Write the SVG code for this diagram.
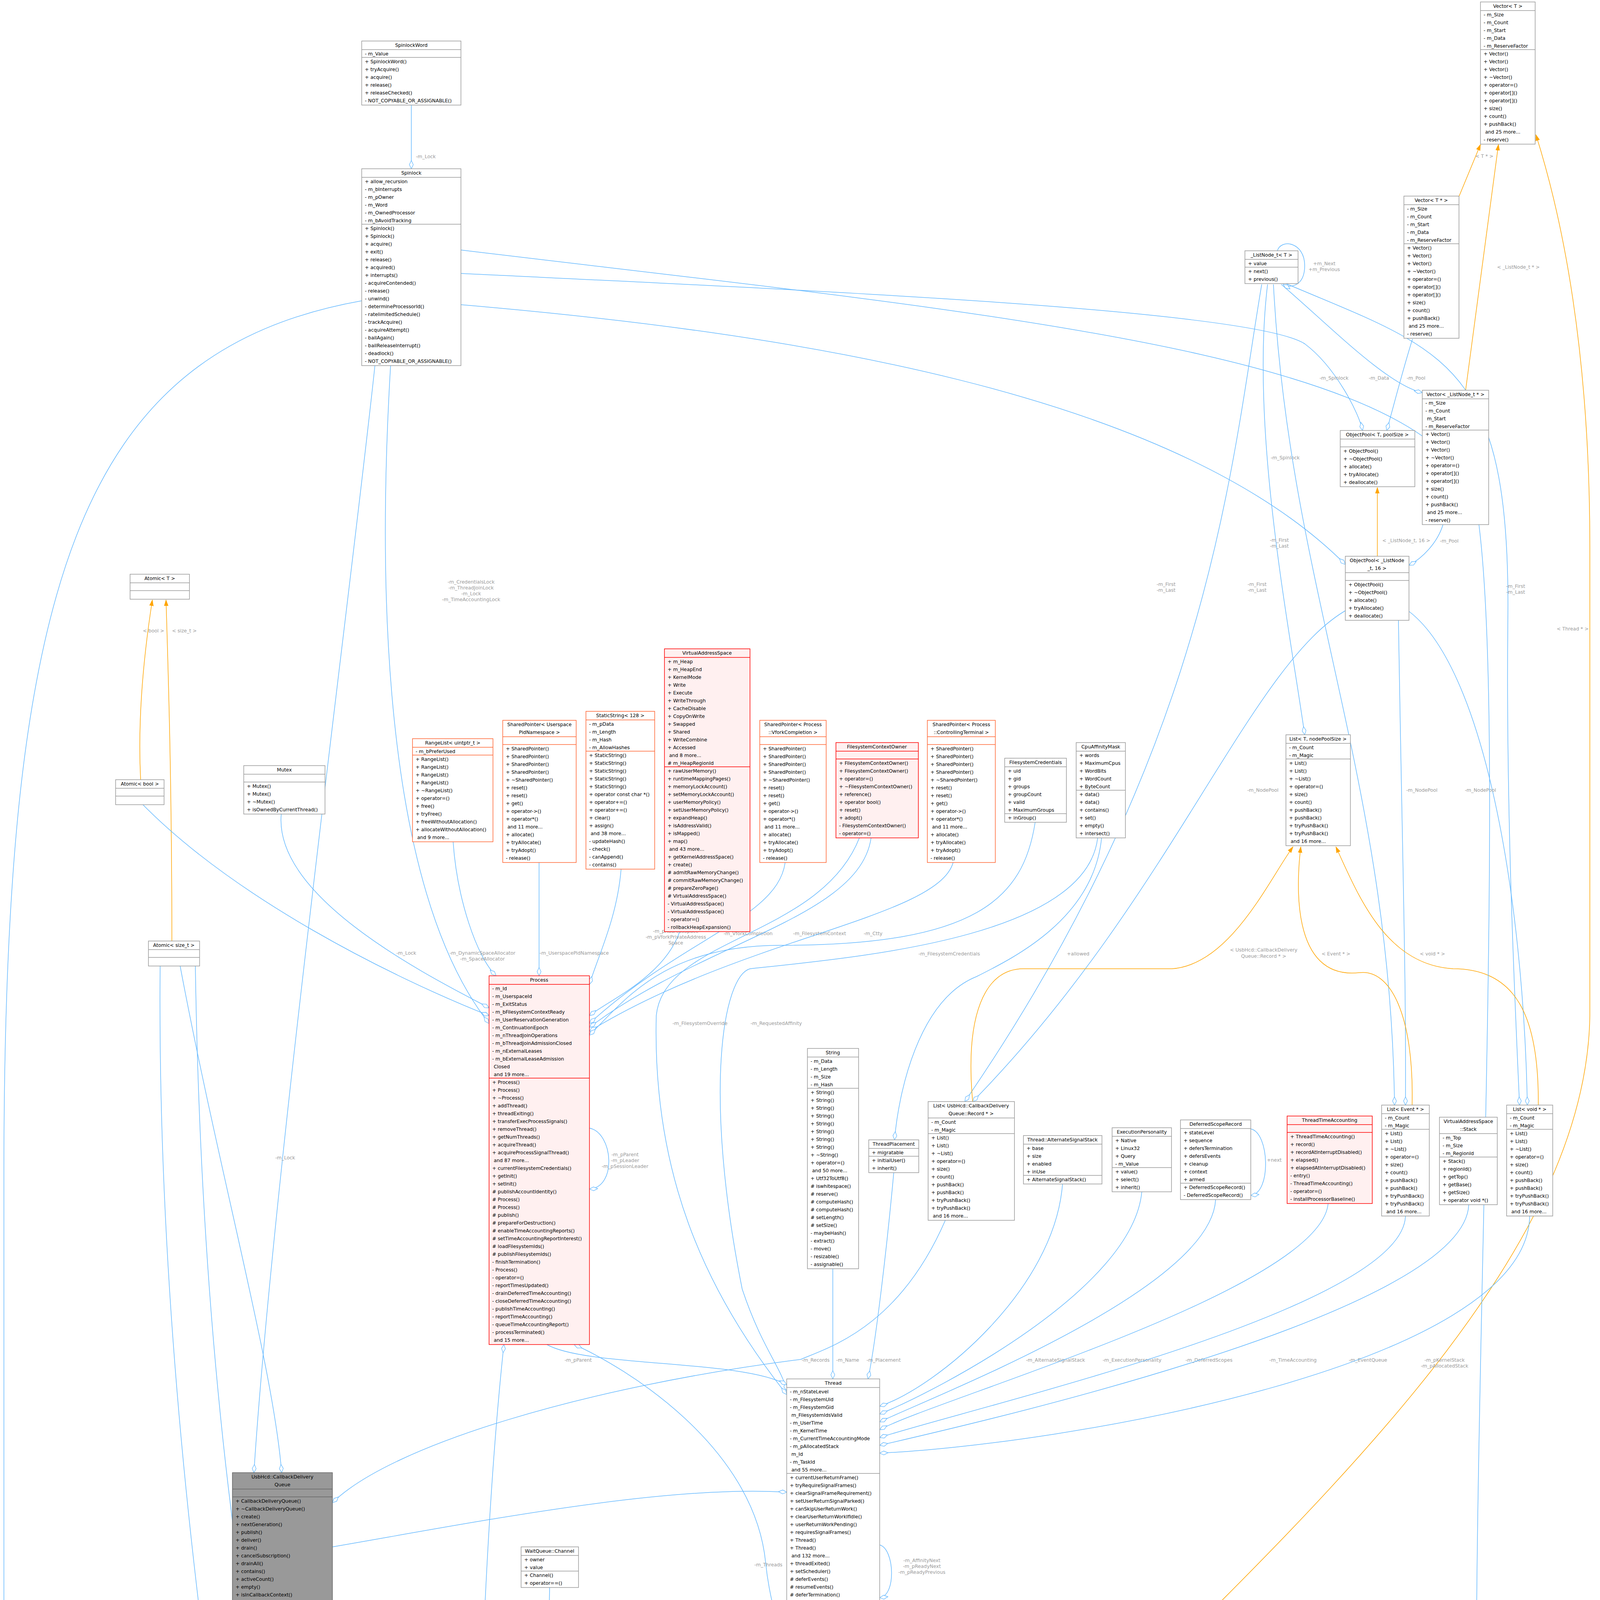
<svg xmlns="http://www.w3.org/2000/svg" width="4113" height="7321" viewBox="0 0 4113 7321">
<style>
.t{font-family:"DejaVu Sans","Liberation Sans",sans-serif;font-size:12.3px;fill:#000}
.c{text-anchor:middle}
.l{font-family:"DejaVu Sans","Liberation Sans",sans-serif;font-size:12.3px;fill:#9A9A9A;text-anchor:middle}
.bx rect{fill:#fff;stroke:#999;stroke-width:1.5}
.bx line{stroke:#999;stroke-width:1.5}
.rd rect{fill:#FFF0F0;stroke:#FF0000;stroke-width:1.5}
.rd line{stroke:#FF0000;stroke-width:1.5}
.or rect{fill:#fff;stroke:#FF6633;stroke-width:1.5}
.or line{stroke:#FF6633;stroke-width:1.5}
.gy rect{fill:#999;stroke:#666;stroke-width:1.5}
.gy line{stroke:#666;stroke-width:1.5}
.e{fill:none;stroke:#63B8FF;stroke-width:1.5}
.o{fill:none;stroke:orange;stroke-width:1.5}
</style>
<defs>
<marker id="dm" markerWidth="24" markerHeight="12" refX="22" refY="6" orient="auto" markerUnits="userSpaceOnUse"><path d="M1,6 L11.5,1 L22,6 L11.5,11 Z" fill="#fff" stroke="#63B8FF" stroke-width="1.3"/></marker>
<marker id="oa" markerWidth="16" markerHeight="12" refX="15" refY="6" orient="auto" markerUnits="userSpaceOnUse"><path d="M0,1 L15,6 L0,11 Z" fill="orange" stroke="orange"/></marker>
<marker id="ta" markerWidth="16" markerHeight="12" refX="15" refY="6" orient="auto" markerUnits="userSpaceOnUse"><path d="M0,1 L15,6 L0,11 Z" fill="#fff" stroke="#63B8FF"/></marker>
</defs>

<g id="connectors">
<path class="e" marker-end="url(#dm)" d="M1053,268 L1053,432"/>
<text class="l" x="1090" y="405">-m_Lock</text>
<path class="o" marker-end="url(#oa)" d="M3735,503 L3790,370"/>
<text class="l" x="3800" y="404">&lt; T * &gt;</text>
<path class="o" marker-end="url(#oa)" d="M3752,999 L3836,370"/>
<text class="l" x="3887" y="688">&lt; _ListNode_t * &gt;</text>
<path class="o" marker-end="url(#oa)" d="M2576,4650 C3200,4000 4060,3300 4070,2600 L4070,1400 C4070,900 4000,560 3932,345"/>
<text class="l" x="4026" y="1614">&lt; Thread * &gt;</text>
<path class="o" marker-end="url(#oa)" d="M3526,1424 L3526,1248"/>
<text class="l" x="3600" y="1388">&lt; _ListNode_t, 16 &gt;</text>
<path class="e" marker-end="url(#dm)" d="M3270,642 C3280,610 3340,620 3340,680 C3340,735 3300,738 3285,728"/>
<text class="l" x="3390" y="679">+m_Next</text>
<text class="l" x="3390" y="694">+m_Previous</text>
<path class="e" marker-end="url(#dm)" d="M1180,700 C2000,740 3200,790 3340,880 C3420,940 3480,1060 3488,1102"/>
<text class="l" x="3415" y="972">-m_Spinlock</text>
<path class="e" marker-end="url(#dm)" d="M3616,868 C3590,950 3565,1050 3550,1102"/>
<text class="l" x="3625" y="972">-m_Pool</text>
<path class="e" marker-end="url(#dm)" d="M3280,728 C3400,830 3550,985 3641,1005"/>
<text class="l" x="3530" y="972">-m_Data</text>
<path class="e" marker-end="url(#dm)" d="M1180,780 C2000,850 3000,1000 3444,1445"/>
<text class="l" x="3290" y="1176">-m_Spinlock</text>
<path class="e" marker-end="url(#dm)" d="M3694,1343 C3680,1390 3640,1430 3607,1447"/>
<text class="l" x="3710" y="1389">-m_Pool</text>
<path class="e" marker-end="url(#dm)" d="M3450,1560 C3200,1700 3000,2300 2490,2820"/>
<text class="l" x="3233" y="2027">-m_NodePool</text>
<path class="e" marker-end="url(#dm)" d="M3580,1588 C3590,2200 3600,2500 3598,2829"/>
<text class="l" x="3640" y="2027">-m_NodePool</text>
<path class="e" marker-end="url(#dm)" d="M3600,1560 C3800,1700 3900,2300 3910,2829"/>
<text class="l" x="3790" y="2027">-m_NodePool</text>
<path class="e" marker-end="url(#dm)" d="M3245,728 C3200,1100 3300,1600 3340,1881"/>
<text class="l" x="3275" y="1387">-m_First</text>
<text class="l" x="3275" y="1402">-m_Last</text>
<path class="e" marker-end="url(#dm)" d="M3230,728 C3150,1200 3100,1900 2470,2820"/>
<text class="l" x="3218" y="1500">-m_First</text>
<text class="l" x="3218" y="1515">-m_Last</text>
<path class="e" marker-end="url(#dm)" d="M3290,725 C3700,900 3870,920 3860,1600 C3855,2100 3880,2600 3890,2829"/>
<text class="l" x="3880" y="1505">-m_First</text>
<text class="l" x="3880" y="1520">-m_Last</text>
<path class="e" marker-end="url(#dm)" d="M3260,728 C3300,1500 3560,2000 3570,2829"/>
<text class="l" x="2985" y="1500">-m_First</text>
<text class="l" x="2985" y="1515">-m_Last</text>
<path class="o" marker-end="url(#oa)" d="M2490,2820 C2470,2600 2520,2480 2620,2480 L3000,2480 C3150,2470 3250,2250 3310,2168"/>
<text class="l" x="3235" y="2436">&lt; UsbHcd::CallbackDelivery</text>
<text class="l" x="3235" y="2452">Queue::Record * &gt;</text>
<path class="o" marker-end="url(#oa)" d="M3615,2829 C3620,2600 3560,2480 3480,2490 C3300,2510 3320,2250 3330,2168"/>
<text class="l" x="3420" y="2446">&lt; Event * &gt;</text>
<path class="o" marker-end="url(#oa)" d="M3938,2829 C3940,2600 3880,2480 3720,2480 C3550,2470 3480,2300 3420,2168"/>
<text class="l" x="3667" y="2446">&lt; void * &gt;</text>
<path class="o" marker-end="url(#oa)" d="M360,1996 C350,1800 380,1600 390,1536"/>
<text class="l" x="393" y="1619">&lt; bool &gt;</text>
<path class="o" marker-end="url(#oa)" d="M440,2409 C440,2000 430,1700 425,1536"/>
<text class="l" x="472" y="1619">&lt; size_t &gt;</text>

<path class="e" marker-end="url(#dm)" d="M1000,934 C960,1600 1000,2300 1252,2620"/>
<text class="l" x="1206" y="1494">-m_CredentialsLock</text>
<text class="l" x="1206" y="1509">-m_ThreadJoinLock</text>
<text class="l" x="1206" y="1524">-m_Lock</text>
<text class="l" x="1206" y="1539">-m_TimeAccountingLock</text>
<path class="e" marker-end="url(#dm)" d="M720,2084 C700,2300 1100,2500 1252,2580"/>
<text class="l" x="1040" y="2444">-m_Lock</text>
<path class="e" marker-end="url(#dm)" d="M360,2054 C600,2300 1000,2500 1252,2600"/>
<path class="e" marker-end="url(#dm)" d="M1160,2155 C1170,2300 1220,2450 1270,2498"/>
<text class="l" x="1235" y="2444">-m_DynamicSpaceAllocator</text>
<text class="l" x="1235" y="2459">-m_SpaceAllocator</text>
<path class="e" marker-end="url(#dm)" d="M1380,2208 L1380,2498"/>
<text class="l" x="1470" y="2444">-m_UserspacePidNamespace</text>
<path class="e" marker-end="url(#dm)" d="M1590,2225 C1580,2350 1530,2450 1509,2520"/>
<path class="e" marker-end="url(#dm)" d="M1740,2385 C1700,2500 1560,2560 1509,2600"/>
<text class="l" x="1730" y="2388">-m_pAddressSpace</text>
<text class="l" x="1730" y="2403">-m_pVforkPrivateAddress</text>
<text class="l" x="1730" y="2418">Space</text>
<path class="e" marker-end="url(#dm)" d="M2010,2208 C1990,2350 1750,2400 1509,2620"/>
<text class="l" x="1915" y="2394">-m_VforkCompletion</text>
<path class="e" marker-end="url(#dm)" d="M2230,2145 C2200,2350 1800,2410 1509,2630"/>
<text class="l" x="2098" y="2394">-m_FilesystemContext</text>
<path class="e" marker-end="url(#dm)" d="M2440,2208 C2400,2350 1900,2400 1509,2640"/>
<text class="l" x="2235" y="2394">-m_Ctty</text>
<path class="e" marker-end="url(#dm)" d="M2650,2105 C2620,2300 2500,2420 2000,2420 C1700,2420 1600,2560 1509,2650"/>
<text class="l" x="2430" y="2446">-m_FilesystemCredentials</text>
<path class="e" marker-end="url(#dm)" d="M2820,2145 C2800,2350 2600,2450 2500,2500 C2350,2560 2300,2800 2290,2918"/>
<text class="l" x="2760" y="2446">+allowed</text>
<path class="e" marker-end="url(#dm)" d="M2810,2145 C2780,2400 2200,2450 1920,2480 C1850,2500 1800,2800 1900,3300 C1950,3450 2000,3500 2014,3560"/>
<text class="l" x="1987" y="2624">-m_RequestedAffinity</text>
<path class="e" marker-end="url(#dm)" d="M2200,2145 C2100,2400 1700,2400 1680,2600 C1670,3000 1800,3300 2014,3570"/>
<text class="l" x="1792" y="2624">-m_FilesystemOverride</text>
<path class="e" marker-end="url(#dm)" d="M1400,3442 C1500,3500 1900,3480 2014,3545"/>
<text class="l" x="1480" y="3486">-m_pParent</text>
<path class="e" marker-end="url(#dm)" d="M1509,2888 C1570,2900 1580,3040 1509,3044"/>
<text class="l" x="1600" y="2960">-m_pParent</text>
<text class="l" x="1600" y="2975">-m_pLeader</text>
<text class="l" x="1600" y="2990">-m_pSessionLeader</text>
<path class="e" marker-end="url(#dm)" d="M2132,3248 L2132,3530"/>
<text class="l" x="2170" y="3486">-m_Name</text>
<path class="e" marker-end="url(#dm)" d="M2420,3124 C2300,3400 2120,3450 2050,3480 C1500,3550 1000,3700 851,3847"/>
<text class="l" x="2088" y="3486">-m_Records</text>
<path class="e" marker-end="url(#dm)" d="M2288,3002 C2270,3200 2240,3450 2222,3530"/>
<text class="l" x="2262" y="3486">-m_Placement</text>
<path class="e" marker-end="url(#dm)" d="M2720,3031 C2700,3300 2400,3550 2252,3600"/>
<text class="l" x="2702" y="3486">-m_AlternateSignalStack</text>
<path class="e" marker-end="url(#dm)" d="M2923,3051 C2900,3300 2400,3560 2252,3620"/>
<text class="l" x="2898" y="3486">-m_ExecutionPersonality</text>
<path class="e" marker-end="url(#dm)" d="M3112,3071 C3100,3300 2400,3570 2252,3640"/>
<text class="l" x="3095" y="3486">-m_DeferredScopes</text>
<path class="e" marker-end="url(#dm)" d="M3202,2890 C3250,2900 3255,3055 3202,3060"/>
<text class="l" x="3262" y="2974">+next</text>
<path class="e" marker-end="url(#dm)" d="M3400,3081 C3380,3300 2400,3580 2252,3660"/>
<text class="l" x="3310" y="3486">-m_TimeAccounting</text>
<path class="e" marker-end="url(#dm)" d="M3598,3113 C3590,3350 2500,3600 2252,3680"/>
<text class="l" x="3502" y="3486">-m_EventQueue</text>
<path class="e" marker-end="url(#dm)" d="M3760,3084 C3750,3350 2600,3620 2252,3700"/>
<text class="l" x="3698" y="3486">-m_pKernelStack</text>
<text class="l" x="3698" y="3501">-m_pAllocatedStack</text>
<path class="e" marker-end="url(#dm)" d="M3916,3113 C3910,3500 2700,3700 2252,3720"/>
<path class="e" marker-end="url(#dm)" d="M2252,3955 C2290,3965 2295,4085 2252,4090"/>
<text class="l" x="2360" y="3999">-m_AffinityNext</text>
<text class="l" x="2360" y="4014">-m_pReadyNext</text>
<text class="l" x="2360" y="4029">-m_pReadyPrevious</text>
<path class="e" marker-end="url(#dm)" d="M2115,4494 C2130,4600 2200,4740 2210,4771"/>
<text class="l" x="2167" y="4562">+thread</text>
<path class="e" marker-end="url(#dm)" d="M2232,4771 L2198,4494"/>
<text class="l" x="2287" y="4562">-m_DeferredReapNode</text>
<path class="e" marker-end="url(#dm)" d="M2334,4785 C2385,4775 2385,4845 2270,4836"/>
<text class="l" x="2395" y="4804">+next</text>
<path class="e" marker-end="url(#dm)" d="M2252,4268 C2300,4400 2400,4620 2434,4640"/>
<text class="l" x="2435" y="4562">-m_Data</text>
<path class="e" marker-end="url(#dm)" d="M2245,4835 C2300,5200 2450,5500 2500,5705"/>
<text class="l" x="2392" y="5117">-m_Head</text>
<text class="l" x="2392" y="5132">-m_Stub</text>
<text class="l" x="2392" y="5147">-m_Tail</text>
<path class="e" marker-end="url(#dm)" d="M2470,5989 C2400,6300 2000,6700 1934,6800"/>
<text class="l" x="2465" y="6209">-m_DeferredThreadReaps</text>
<path class="e" marker-end="url(#dm)" d="M2080,4494 C2000,4700 1900,4900 1880,4996"/>
<text class="l" x="1940" y="4559">-m_pThread</text>
<path class="e" marker-end="url(#dm)" d="M2020,5285 C2030,5000 2050,4700 2060,4494"/>
<text class="l" x="2072" y="4804">-m_StateLevels</text>
<path class="e" marker-end="url(#dm)" d="M2030,4494 C1900,5000 1800,5600 1800,6480"/>
<text class="l" x="1880" y="5847">-m_NewThreadWaiter</text>
<text class="l" x="1880" y="5862">-m_TimeAccountingWorker</text>
<path class="e" marker-end="url(#dm)" d="M2014,4100 C1700,4300 1500,4550 1480,4648"/>
<text class="l" x="1626" y="4559">+thread</text>
<path class="e" marker-end="url(#dm)" d="M2434,4720 C2200,4600 1990,4300 1960,4000 C1930,3700 1600,3500 1470,3442"/>
<text class="l" x="1967" y="4010">-m_Threads</text>
<path class="e" marker-end="url(#dm)" d="M1407,4064 L1396,4648"/>
<text class="l" x="1430" y="4563">+channel</text>
<path class="e" marker-end="url(#dm)" d="M1220,5290 C1210,4900 1230,4000 1290,3442"/>
<text class="l" x="1305" y="4526">-m_ChildStateWaiters</text>
<text class="l" x="1305" y="4541">-m_ExecWaiters</text>
<text class="l" x="1305" y="4556">-m_ExternalLeaseWaiters</text>
<text class="l" x="1305" y="4571">-m_SuspensionWaiters</text>
<text class="l" x="1305" y="4586">-m_TerminationWaiters</text>
<text class="l" x="1305" y="4601">-m_ThreadJoinWaiters</text>
<path class="e" marker-end="url(#dm)" d="M1483,4760 C1515,4770 1515,4850 1483,4845"/>
<text class="l" x="1540" y="4808">+next</text>
<path class="e" marker-end="url(#dm)" d="M1456,4952 C1420,5050 1330,5100 1290,5290"/>
<text class="l" x="1300" y="5129">-m_pFirst</text>
<text class="l" x="1300" y="5144">-m_pLast</text>
<path class="e" marker-end="url(#dm)" d="M1250,5290 C1280,5100 1370,5000 1390,4952"/>
<text class="l" x="1430" y="5130">+queue</text>
<path class="e" marker-end="url(#dm)" d="M1483,4870 C1700,5000 1780,5150 1830,4800 C1880,4500 1980,4400 2014,4380"/>
<text class="l" x="1763" y="5130">-m_Waiter</text>
<path class="e" marker-end="url(#dm)" d="M960,934 C900,1500 700,3000 650,3770"/>
<path class="e" marker-end="url(#dm)" d="M460,2467 C560,3000 700,3500 721,3770"/>
<text class="l" x="730" y="2968">-m_Lock</text>
<path class="e" marker-end="url(#dm)" d="M410,2467 C400,3500 560,4500 590,4700 C620,4900 900,5500 900,6018"/>
<text class="l" x="590" y="4559">-m_Pending</text>
<path class="e" marker-end="url(#dm)" d="M500,2467 C520,3800 700,4500 703,4560 C720,4800 940,5500 950,6018"/>
<text class="l" x="703" y="4559">-m_Counter</text>
<path class="e" marker-end="url(#dm)" d="M1170,5673 C1150,5850 1050,5950 1040,6018"/>
<text class="l" x="1167" y="5852">-m_Waiters</text>
<path class="e" marker-end="url(#dm)" d="M1230,5673 C1240,5850 1210,6000 1210,6108"/>
<text class="l" x="1254" y="5852">-m_Waiters</text>
<path class="e" marker-end="url(#dm)" d="M1302,4870 C1000,5200 940,5700 940,6018"/>
<text class="l" x="997" y="5852">-m_pWaiter</text>
<path class="e" marker-end="url(#dm)" d="M750,6185 C795,6180 795,6250 740,6242"/>
<text class="l" x="818" y="6216">-m_pNext</text>
<path class="e" marker-end="url(#dm)" d="M1110,5552 C900,5700 700,6000 680,6178"/>
<path class="e" marker-end="url(#dm)" d="M600,6242 C700,6400 1200,6600 1668,6850"/>
<text class="l" x="1023" y="6442">-m_TimeAccountingWorkerWake</text>
<text class="l" x="1023" y="6457">-m_pWorkerWake</text>
<path class="e" marker-end="url(#dm)" d="M1200,6312 C1180,6500 1500,6700 1668,6800"/>
<text class="l" x="1246" y="6442">-m_NewThreadCondition</text>
<path class="e" marker-end="url(#dm)" d="M1290,5673 C1400,6000 1600,6300 1668,6600"/>
<text class="l" x="1489" y="6215">-m_TimeAccountingWorkerWaiters</text>
<path class="e" marker-end="url(#ta)" d="M1850,6480 L1868,6254"/>
<path class="e" marker-end="url(#dm)" d="M2050,6282 C2030,6400 1950,6500 1934,6560"/>
<text class="l" x="2085" y="6442">-m_pSchedulingAlgorithm</text>
<path class="e" marker-end="url(#dm)" d="M3150,6349 C3000,6500 2200,6700 1934,6830"/>
<text class="l" x="3187" y="6442">-m_TimeAccountingState</text>
<path class="e" marker-end="url(#dm)" d="M926,770 C200,900 10,1500 10,3000 L10,6600 C10,6900 1300,6850 1668,6870"/>
<path class="e" marker-end="url(#dm)" d="M1180,640 C2500,800 3700,900 3780,1300 C3860,1800 3770,3500 3780,4500 C3800,6000 3000,6700 1934,6870"/>
<path class="e" marker-end="url(#dm)" d="M851,3960 C1200,3900 1700,3800 2014,3820"/>
</g>

<g id="n_spinlockword" class="bx"><rect x="926" y="105" width="254" height="164"/><line x1="926" y1="127" x2="1180" y2="127"/><line x1="926" y1="147" x2="1180" y2="147"/>
<text class="t c" x="1053" y="120">SpinlockWord</text>
<text class="t"><tspan x="934" y="142">- m_Value</tspan><tspan x="934" y="162">+ SpinlockWord()</tspan><tspan x="934" dy="20">+ tryAcquire()</tspan><tspan x="934" dy="20">+ acquire()</tspan><tspan x="934" dy="20">+ release()</tspan><tspan x="934" dy="20">+ releaseChecked()</tspan><tspan x="934" dy="20">- NOT_COPYABLE_OR_ASSIGNABLE()</tspan></text></g>

<g id="n_spinlock" class="bx"><rect x="926" y="432" width="254" height="504"/><line x1="926" y1="454" x2="1180" y2="454"/><line x1="926" y1="574" x2="1180" y2="574"/>
<text class="t c" x="1053" y="447">Spinlock</text>
<text class="t"><tspan x="934" y="469">+ allow_recursion</tspan><tspan x="934" dy="20">- m_bInterrupts</tspan><tspan x="934" dy="20">- m_pOwner</tspan><tspan x="934" dy="20">- m_Word</tspan><tspan x="934" dy="20">- m_OwnedProcessor</tspan><tspan x="934" dy="20">- m_bAvoidTracking</tspan>
<tspan x="934" y="589">+ Spinlock()</tspan><tspan x="934" dy="20">+ Spinlock()</tspan><tspan x="934" dy="20">+ acquire()</tspan><tspan x="934" dy="20">+ exit()</tspan><tspan x="934" dy="20">+ release()</tspan><tspan x="934" dy="20">+ acquired()</tspan><tspan x="934" dy="20">+ interrupts()</tspan><tspan x="934" dy="20">- acquireContended()</tspan><tspan x="934" dy="20">- release()</tspan><tspan x="934" dy="20">- unwind()</tspan><tspan x="934" dy="20">- determineProcessorId()</tspan><tspan x="934" dy="20">- ratelimitedSchedule()</tspan><tspan x="934" dy="20">- trackAcquire()</tspan><tspan x="934" dy="20">- acquireAttempt()</tspan><tspan x="934" dy="20">- bailAgain()</tspan><tspan x="934" dy="20">- bailReleaseInterrupt()</tspan><tspan x="934" dy="20">- deadlock()</tspan><tspan x="934" dy="20">- NOT_COPYABLE_OR_ASSIGNABLE()</tspan></text></g>

<g id="n_vector_t" class="bx"><rect x="3790" y="5" width="140" height="364"/><line x1="3790" y1="27" x2="3930" y2="27"/><line x1="3790" y1="127" x2="3930" y2="127"/>
<text class="t c" x="3860" y="20">Vector&lt; T &gt;</text>
<text class="t"><tspan x="3798" y="42">- m_Size</tspan><tspan x="3798" dy="20">- m_Count</tspan><tspan x="3798" dy="20">- m_Start</tspan><tspan x="3798" dy="20">- m_Data</tspan><tspan x="3798" dy="20">- m_ReserveFactor</tspan>
<tspan x="3798" y="142">+ Vector()</tspan><tspan x="3798" dy="20">+ Vector()</tspan><tspan x="3798" dy="20">+ Vector()</tspan><tspan x="3798" dy="20">+ ~Vector()</tspan><tspan x="3798" dy="20">+ operator=()</tspan><tspan x="3798" dy="20">+ operator[]()</tspan><tspan x="3798" dy="20">+ operator[]()</tspan><tspan x="3798" dy="20">+ size()</tspan><tspan x="3798" dy="20">+ count()</tspan><tspan x="3798" dy="20">+ pushBack()</tspan><tspan x="3798" dy="20">   and 25 more...</tspan><tspan x="3798" dy="20">- reserve()</tspan></text></g>

<g id="n_vector_tp" class="bx"><rect x="3594" y="502" width="141" height="364"/><line x1="3594" y1="524" x2="3735" y2="524"/><line x1="3594" y1="624" x2="3735" y2="624"/>
<text class="t c" x="3664" y="517">Vector&lt; T * &gt;</text>
<text class="t"><tspan x="3602" y="539">- m_Size</tspan><tspan x="3602" dy="20">- m_Count</tspan><tspan x="3602" dy="20">- m_Start</tspan><tspan x="3602" dy="20">- m_Data</tspan><tspan x="3602" dy="20">- m_ReserveFactor</tspan>
<tspan x="3602" y="639">+ Vector()</tspan><tspan x="3602" dy="20">+ Vector()</tspan><tspan x="3602" dy="20">+ Vector()</tspan><tspan x="3602" dy="20">+ ~Vector()</tspan><tspan x="3602" dy="20">+ operator=()</tspan><tspan x="3602" dy="20">+ operator[]()</tspan><tspan x="3602" dy="20">+ operator[]()</tspan><tspan x="3602" dy="20">+ size()</tspan><tspan x="3602" dy="20">+ count()</tspan><tspan x="3602" dy="20">+ pushBack()</tspan><tspan x="3602" dy="20">   and 25 more...</tspan><tspan x="3602" dy="20">- reserve()</tspan></text></g>

<g id="n_listnode" class="bx"><rect x="3187" y="642" width="136" height="84"/><line x1="3187" y1="664" x2="3323" y2="664"/><line x1="3187" y1="684" x2="3323" y2="684"/>
<text class="t c" x="3255" y="657">_ListNode_t&lt; T &gt;</text>
<text class="t"><tspan x="3195" y="679">+ value</tspan><tspan x="3195" y="699">+ next()</tspan><tspan x="3195" dy="20">+ previous()</tspan></text></g>

<g id="n_objectpool_t" class="bx"><rect x="3431" y="1102" width="191" height="144"/><line x1="3431" y1="1124" x2="3622" y2="1124"/><line x1="3431" y1="1144" x2="3622" y2="1144"/>
<text class="t c" x="3526" y="1117">ObjectPool&lt; T, poolSize &gt;</text>
<text class="t"><tspan x="3439" y="1159">+ ObjectPool()</tspan><tspan x="3439" dy="20">+ ~ObjectPool()</tspan><tspan x="3439" dy="20">+ allocate()</tspan><tspan x="3439" dy="20">+ tryAllocate()</tspan><tspan x="3439" dy="20">+ deallocate()</tspan></text></g>

<g id="n_vector_listnode" class="bx"><rect x="3641" y="999" width="170" height="344"/><line x1="3641" y1="1021" x2="3811" y2="1021"/><line x1="3641" y1="1101" x2="3811" y2="1101"/>
<text class="t c" x="3726" y="1014">Vector&lt; _ListNode_t * &gt;</text>
<text class="t"><tspan x="3649" y="1036">- m_Size</tspan><tspan x="3649" dy="20">- m_Count</tspan><tspan x="3649" dy="20">   m_Start</tspan><tspan x="3649" dy="20">- m_ReserveFactor</tspan>
<tspan x="3649" y="1116">+ Vector()</tspan><tspan x="3649" dy="20">+ Vector()</tspan><tspan x="3649" dy="20">+ Vector()</tspan><tspan x="3649" dy="20">+ ~Vector()</tspan><tspan x="3649" dy="20">+ operator=()</tspan><tspan x="3649" dy="20">+ operator[]()</tspan><tspan x="3649" dy="20">+ operator[]()</tspan><tspan x="3649" dy="20">+ size()</tspan><tspan x="3649" dy="20">+ count()</tspan><tspan x="3649" dy="20">+ pushBack()</tspan><tspan x="3649" dy="20">   and 25 more...</tspan><tspan x="3649" dy="20">- reserve()</tspan></text></g>

<g id="n_objectpool_ln" class="bx"><rect x="3444" y="1424" width="163" height="164"/><line x1="3444" y1="1466" x2="3607" y2="1466"/><line x1="3444" y1="1486" x2="3607" y2="1486"/>
<text class="t c" x="3525" y="1439">ObjectPool&lt; _ListNode</text><text class="t c" x="3525" y="1459">_t, 16 &gt;</text>
<text class="t"><tspan x="3452" y="1501">+ ObjectPool()</tspan><tspan x="3452" dy="20">+ ~ObjectPool()</tspan><tspan x="3452" dy="20">+ allocate()</tspan><tspan x="3452" dy="20">+ tryAllocate()</tspan><tspan x="3452" dy="20">+ deallocate()</tspan></text></g>

<g id="n_list_t" class="bx"><rect x="3292" y="1881" width="165" height="284"/><line x1="3292" y1="1903" x2="3457" y2="1903"/><line x1="3292" y1="1943" x2="3457" y2="1943"/>
<text class="t c" x="3374" y="1896">List&lt; T, nodePoolSize &gt;</text>
<text class="t"><tspan x="3300" y="1918">- m_Count</tspan><tspan x="3300" dy="20">- m_Magic</tspan>
<tspan x="3300" y="1958">+ List()</tspan><tspan x="3300" dy="20">+ List()</tspan><tspan x="3300" dy="20">+ ~List()</tspan><tspan x="3300" dy="20">+ operator=()</tspan><tspan x="3300" dy="20">+ size()</tspan><tspan x="3300" dy="20">+ count()</tspan><tspan x="3300" dy="20">+ pushBack()</tspan><tspan x="3300" dy="20">+ pushBack()</tspan><tspan x="3300" dy="20">+ tryPushBack()</tspan><tspan x="3300" dy="20">+ tryPushBack()</tspan><tspan x="3300" dy="20">   and 16 more...</tspan></text></g>

<g id="n_atomic_t" class="bx"><rect x="333" y="1470" width="152" height="64"/><line x1="333" y1="1492" x2="485" y2="1492"/><line x1="333" y1="1512" x2="485" y2="1512"/>
<text class="t c" x="409" y="1485">Atomic&lt; T &gt;</text></g>
<g id="n_atomic_bool" class="bx"><rect x="296" y="1996" width="124" height="64"/><line x1="296" y1="2018" x2="420" y2="2018"/><line x1="296" y1="2038" x2="420" y2="2038"/>
<text class="t c" x="358" y="2011">Atomic&lt; bool &gt;</text></g>
<g id="n_atomic_size" class="bx"><rect x="380" y="2409" width="131" height="64"/><line x1="380" y1="2431" x2="511" y2="2431"/><line x1="380" y1="2451" x2="511" y2="2451"/>
<text class="t c" x="445" y="2424">Atomic&lt; size_t &gt;</text></g>

<g id="n_mutex" class="bx"><rect x="624" y="1960" width="208" height="124"/><line x1="624" y1="1982" x2="832" y2="1982"/><line x1="624" y1="2002" x2="832" y2="2002"/>
<text class="t c" x="728" y="1975">Mutex</text>
<text class="t"><tspan x="632" y="2017">+ Mutex()</tspan><tspan x="632" dy="20">+ Mutex()</tspan><tspan x="632" dy="20">+ ~Mutex()</tspan><tspan x="632" dy="20">+ isOwnedByCurrentThread()</tspan></text></g>

<g id="n_rangelist" class="or"><rect x="1056" y="1891" width="206" height="264"/><line x1="1056" y1="1913" x2="1262" y2="1913"/><line x1="1056" y1="1933" x2="1262" y2="1933"/>
<text class="t c" x="1159" y="1906">RangeList&lt; uintptr_t &gt;</text>
<text class="t"><tspan x="1064" y="1928">- m_bPreferUsed</tspan>
<tspan x="1064" y="1948">+ RangeList()</tspan><tspan x="1064" dy="20">+ RangeList()</tspan><tspan x="1064" dy="20">+ RangeList()</tspan><tspan x="1064" dy="20">+ RangeList()</tspan><tspan x="1064" dy="20">+ ~RangeList()</tspan><tspan x="1064" dy="20">+ operator=()</tspan><tspan x="1064" dy="20">+ free()</tspan><tspan x="1064" dy="20">+ tryFree()</tspan><tspan x="1064" dy="20">+ freeWithoutAllocation()</tspan><tspan x="1064" dy="20">+ allocateWithoutAllocation()</tspan><tspan x="1064" dy="20">   and 9 more...</tspan></text></g>

<g id="n_sp_upn" class="or"><rect x="1287" y="1844" width="188" height="364"/><line x1="1287" y1="1886" x2="1475" y2="1886"/><line x1="1287" y1="1906" x2="1475" y2="1906"/>
<text class="t c" x="1381" y="1859">SharedPointer&lt; Userspace</text><text class="t c" x="1381" y="1879">PidNamespace &gt;</text>
<text class="t"><tspan x="1295" y="1921">+ SharedPointer()</tspan><tspan x="1295" dy="20">+ SharedPointer()</tspan><tspan x="1295" dy="20">+ SharedPointer()</tspan><tspan x="1295" dy="20">+ SharedPointer()</tspan><tspan x="1295" dy="20">+ ~SharedPointer()</tspan><tspan x="1295" dy="20">+ reset()</tspan><tspan x="1295" dy="20">+ reset()</tspan><tspan x="1295" dy="20">+ get()</tspan><tspan x="1295" dy="20">+ operator-&gt;()</tspan><tspan x="1295" dy="20">+ operator*()</tspan><tspan x="1295" dy="20">   and 11 more...</tspan><tspan x="1295" dy="20">+ allocate()</tspan><tspan x="1295" dy="20">+ tryAllocate()</tspan><tspan x="1295" dy="20">+ tryAdopt()</tspan><tspan x="1295" dy="20">- release()</tspan></text></g>

<g id="n_staticstring" class="or"><rect x="1500" y="1821" width="176" height="404"/><line x1="1500" y1="1843" x2="1676" y2="1843"/><line x1="1500" y1="1923" x2="1676" y2="1923"/>
<text class="t c" x="1588" y="1836">StaticString&lt; 128 &gt;</text>
<text class="t"><tspan x="1508" y="1858">- m_pData</tspan><tspan x="1508" dy="20">- m_Length</tspan><tspan x="1508" dy="20">- m_Hash</tspan><tspan x="1508" dy="20">- m_AllowHashes</tspan>
<tspan x="1508" y="1938">+ StaticString()</tspan><tspan x="1508" dy="20">+ StaticString()</tspan><tspan x="1508" dy="20">+ StaticString()</tspan><tspan x="1508" dy="20">+ StaticString()</tspan><tspan x="1508" dy="20">+ StaticString()</tspan><tspan x="1508" dy="20">+ operator const char *()</tspan><tspan x="1508" dy="20">+ operator+=()</tspan><tspan x="1508" dy="20">+ operator+=()</tspan><tspan x="1508" dy="20">+ clear()</tspan><tspan x="1508" dy="20">+ assign()</tspan><tspan x="1508" dy="20">   and 38 more...</tspan><tspan x="1508" dy="20">- updateHash()</tspan><tspan x="1508" dy="20">- check()</tspan><tspan x="1508" dy="20">- canAppend()</tspan><tspan x="1508" dy="20">- contains()</tspan></text></g>

<g id="n_vas" class="rd"><rect x="1701" y="1661" width="219" height="724"/><line x1="1701" y1="1683" x2="1920" y2="1683"/><line x1="1701" y1="1963" x2="1920" y2="1963"/>
<text class="t c" x="1810" y="1676">VirtualAddressSpace</text>
<text class="t"><tspan x="1709" y="1698">+ m_Heap</tspan><tspan x="1709" dy="20">+ m_HeapEnd</tspan><tspan x="1709" dy="20">+ KernelMode</tspan><tspan x="1709" dy="20">+ Write</tspan><tspan x="1709" dy="20">+ Execute</tspan><tspan x="1709" dy="20">+ WriteThrough</tspan><tspan x="1709" dy="20">+ CacheDisable</tspan><tspan x="1709" dy="20">+ CopyOnWrite</tspan><tspan x="1709" dy="20">+ Swapped</tspan><tspan x="1709" dy="20">+ Shared</tspan><tspan x="1709" dy="20">+ WriteCombine</tspan><tspan x="1709" dy="20">+ Accessed</tspan><tspan x="1709" dy="20">   and 8 more...</tspan><tspan x="1709" dy="20"># m_HeapRegionId</tspan>
<tspan x="1709" y="1978">+ rawUserMemory()</tspan><tspan x="1709" dy="20">+ runtimeMappingPages()</tspan><tspan x="1709" dy="20">+ memoryLockAccount()</tspan><tspan x="1709" dy="20">+ setMemoryLockAccount()</tspan><tspan x="1709" dy="20">+ userMemoryPolicy()</tspan><tspan x="1709" dy="20">+ setUserMemoryPolicy()</tspan><tspan x="1709" dy="20">+ expandHeap()</tspan><tspan x="1709" dy="20">+ isAddressValid()</tspan><tspan x="1709" dy="20">+ isMapped()</tspan><tspan x="1709" dy="20">+ map()</tspan><tspan x="1709" dy="20">   and 43 more...</tspan><tspan x="1709" dy="20">+ getKernelAddressSpace()</tspan><tspan x="1709" dy="20">+ create()</tspan><tspan x="1709" dy="20"># admitRawMemoryChange()</tspan><tspan x="1709" dy="20"># commitRawMemoryChange()</tspan><tspan x="1709" dy="20"># prepareZeroPage()</tspan><tspan x="1709" dy="20"># VirtualAddressSpace()</tspan><tspan x="1709" dy="20">- VirtualAddressSpace()</tspan><tspan x="1709" dy="20">- VirtualAddressSpace()</tspan><tspan x="1709" dy="20">- operator=()</tspan><tspan x="1709" dy="20">- rollbackHeapExpansion()</tspan></text></g>

<g id="n_sp_vfork" class="or"><rect x="1945" y="1844" width="170" height="364"/><line x1="1945" y1="1886" x2="2115" y2="1886"/><line x1="1945" y1="1906" x2="2115" y2="1906"/>
<text class="t c" x="2030" y="1859">SharedPointer&lt; Process</text><text class="t c" x="2030" y="1879">::VforkCompletion &gt;</text>
<text class="t"><tspan x="1953" y="1921">+ SharedPointer()</tspan><tspan x="1953" dy="20">+ SharedPointer()</tspan><tspan x="1953" dy="20">+ SharedPointer()</tspan><tspan x="1953" dy="20">+ SharedPointer()</tspan><tspan x="1953" dy="20">+ ~SharedPointer()</tspan><tspan x="1953" dy="20">+ reset()</tspan><tspan x="1953" dy="20">+ reset()</tspan><tspan x="1953" dy="20">+ get()</tspan><tspan x="1953" dy="20">+ operator-&gt;()</tspan><tspan x="1953" dy="20">+ operator*()</tspan><tspan x="1953" dy="20">   and 11 more...</tspan><tspan x="1953" dy="20">+ allocate()</tspan><tspan x="1953" dy="20">+ tryAllocate()</tspan><tspan x="1953" dy="20">+ tryAdopt()</tspan><tspan x="1953" dy="20">- release()</tspan></text></g>

<g id="n_fco" class="rd"><rect x="2140" y="1901" width="211" height="244"/><line x1="2140" y1="1923" x2="2351" y2="1923"/><line x1="2140" y1="1943" x2="2351" y2="1943"/>
<text class="t c" x="2245" y="1916">FilesystemContextOwner</text>
<text class="t"><tspan x="2148" y="1958">+ FilesystemContextOwner()</tspan><tspan x="2148" dy="20">+ FilesystemContextOwner()</tspan><tspan x="2148" dy="20">+ operator=()</tspan><tspan x="2148" dy="20">+ ~FilesystemContextOwner()</tspan><tspan x="2148" dy="20">+ reference()</tspan><tspan x="2148" dy="20">+ operator bool()</tspan><tspan x="2148" dy="20">+ reset()</tspan><tspan x="2148" dy="20">+ adopt()</tspan><tspan x="2148" dy="20">- FilesystemContextOwner()</tspan><tspan x="2148" dy="20">- operator=()</tspan></text></g>

<g id="n_sp_ctty" class="or"><rect x="2374" y="1844" width="174" height="364"/><line x1="2374" y1="1886" x2="2548" y2="1886"/><line x1="2374" y1="1906" x2="2548" y2="1906"/>
<text class="t c" x="2461" y="1859">SharedPointer&lt; Process</text><text class="t c" x="2461" y="1879">::ControllingTerminal &gt;</text>
<text class="t"><tspan x="2382" y="1921">+ SharedPointer()</tspan><tspan x="2382" dy="20">+ SharedPointer()</tspan><tspan x="2382" dy="20">+ SharedPointer()</tspan><tspan x="2382" dy="20">+ SharedPointer()</tspan><tspan x="2382" dy="20">+ ~SharedPointer()</tspan><tspan x="2382" dy="20">+ reset()</tspan><tspan x="2382" dy="20">+ reset()</tspan><tspan x="2382" dy="20">+ get()</tspan><tspan x="2382" dy="20">+ operator-&gt;()</tspan><tspan x="2382" dy="20">+ operator*()</tspan><tspan x="2382" dy="20">   and 11 more...</tspan><tspan x="2382" dy="20">+ allocate()</tspan><tspan x="2382" dy="20">+ tryAllocate()</tspan><tspan x="2382" dy="20">+ tryAdopt()</tspan><tspan x="2382" dy="20">- release()</tspan></text></g>

<g id="n_fscred" class="bx"><rect x="2572" y="1941" width="158" height="164"/><line x1="2572" y1="1963" x2="2730" y2="1963"/><line x1="2572" y1="2083" x2="2730" y2="2083"/>
<text class="t c" x="2651" y="1956">FilesystemCredentials</text>
<text class="t"><tspan x="2580" y="1978">+ uid</tspan><tspan x="2580" dy="20">+ gid</tspan><tspan x="2580" dy="20">+ groups</tspan><tspan x="2580" dy="20">+ groupCount</tspan><tspan x="2580" dy="20">+ valid</tspan><tspan x="2580" dy="20">+ MaximumGroups</tspan><tspan x="2580" y="2098">+ inGroup()</tspan></text></g>

<g id="n_cpuaff" class="bx"><rect x="2755" y="1901" width="126" height="244"/><line x1="2755" y1="1923" x2="2881" y2="1923"/><line x1="2755" y1="2023" x2="2881" y2="2023"/>
<text class="t c" x="2818" y="1916">CpuAffinityMask</text>
<text class="t"><tspan x="2763" y="1938">+ words</tspan><tspan x="2763" dy="20">+ MaximumCpus</tspan><tspan x="2763" dy="20">+ WordBits</tspan><tspan x="2763" dy="20">+ WordCount</tspan><tspan x="2763" dy="20">+ ByteCount</tspan>
<tspan x="2763" y="2038">+ data()</tspan><tspan x="2763" dy="20">+ data()</tspan><tspan x="2763" dy="20">+ contains()</tspan><tspan x="2763" dy="20">+ set()</tspan><tspan x="2763" dy="20">+ empty()</tspan><tspan x="2763" dy="20">+ intersect()</tspan></text></g>

<g id="n_list_cb" class="bx"><rect x="2376" y="2820" width="221" height="304"/><line x1="2376" y1="2862" x2="2597" y2="2862"/><line x1="2376" y1="2902" x2="2597" y2="2902"/>
<text class="t c" x="2486" y="2835">List&lt; UsbHcd::CallbackDelivery</text><text class="t c" x="2486" y="2855">Queue::Record * &gt;</text>
<text class="t"><tspan x="2384" y="2877">- m_Count</tspan><tspan x="2384" dy="20">- m_Magic</tspan>
<tspan x="2384" y="2917">+ List()</tspan><tspan x="2384" dy="20">+ List()</tspan><tspan x="2384" dy="20">+ ~List()</tspan><tspan x="2384" dy="20">+ operator=()</tspan><tspan x="2384" dy="20">+ size()</tspan><tspan x="2384" dy="20">+ count()</tspan><tspan x="2384" dy="20">+ pushBack()</tspan><tspan x="2384" dy="20">+ pushBack()</tspan><tspan x="2384" dy="20">+ tryPushBack()</tspan><tspan x="2384" dy="20">+ tryPushBack()</tspan><tspan x="2384" dy="20">   and 16 more...</tspan></text></g>

<g id="n_altsig" class="bx"><rect x="2620" y="2907" width="201" height="124"/><line x1="2620" y1="2929" x2="2821" y2="2929"/><line x1="2620" y1="3009" x2="2821" y2="3009"/>
<text class="t c" x="2720" y="2922">Thread::AlternateSignalStack</text>
<text class="t"><tspan x="2628" y="2944">+ base</tspan><tspan x="2628" dy="20">+ size</tspan><tspan x="2628" dy="20">+ enabled</tspan><tspan x="2628" dy="20">+ inUse</tspan><tspan x="2628" y="3024">+ AlternateSignalStack()</tspan></text></g>

<g id="n_execpers" class="bx"><rect x="2847" y="2887" width="152" height="164"/><line x1="2847" y1="2909" x2="2999" y2="2909"/><line x1="2847" y1="2989" x2="2999" y2="2989"/>
<text class="t c" x="2923" y="2902">ExecutionPersonality</text>
<text class="t"><tspan x="2855" y="2924">+ Native</tspan><tspan x="2855" dy="20">+ Linux32</tspan><tspan x="2855" dy="20">+ Query</tspan><tspan x="2855" dy="20">- m_Value</tspan><tspan x="2855" y="3004">+ value()</tspan><tspan x="2855" dy="20">+ select()</tspan><tspan x="2855" dy="20">+ inherit()</tspan></text></g>

<g id="n_dsr" class="bx"><rect x="3022" y="2867" width="180" height="204"/><line x1="3022" y1="2889" x2="3202" y2="2889"/><line x1="3022" y1="3029" x2="3202" y2="3029"/>
<text class="t c" x="3112" y="2882">DeferredScopeRecord</text>
<text class="t"><tspan x="3030" y="2904">+ stateLevel</tspan><tspan x="3030" dy="20">+ sequence</tspan><tspan x="3030" dy="20">+ defersTermination</tspan><tspan x="3030" dy="20">+ defersEvents</tspan><tspan x="3030" dy="20">+ cleanup</tspan><tspan x="3030" dy="20">+ context</tspan><tspan x="3030" dy="20">+ armed</tspan><tspan x="3030" y="3044">+ DeferredScopeRecord()</tspan><tspan x="3030" dy="20">- DeferredScopeRecord()</tspan></text></g>

<g id="n_tta" class="rd"><rect x="3295" y="2857" width="218" height="224"/><line x1="3295" y1="2879" x2="3513" y2="2879"/><line x1="3295" y1="2899" x2="3513" y2="2899"/>
<text class="t c" x="3404" y="2872">ThreadTimeAccounting</text>
<text class="t"><tspan x="3303" y="2914">+ ThreadTimeAccounting()</tspan><tspan x="3303" dy="20">+ record()</tspan><tspan x="3303" dy="20">+ recordAtInterruptDisabled()</tspan><tspan x="3303" dy="20">+ elapsed()</tspan><tspan x="3303" dy="20">+ elapsedAtInterruptDisabled()</tspan><tspan x="3303" dy="20">- entry()</tspan><tspan x="3303" dy="20">- ThreadTimeAccounting()</tspan><tspan x="3303" dy="20">- operator=()</tspan><tspan x="3303" dy="20">- installProcessorBaseline()</tspan></text></g>

<g id="n_list_event" class="bx"><rect x="3537" y="2829" width="122" height="284"/><line x1="3537" y1="2851" x2="3659" y2="2851"/><line x1="3537" y1="2891" x2="3659" y2="2891"/>
<text class="t c" x="3598" y="2844">List&lt; Event * &gt;</text>
<text class="t"><tspan x="3545" y="2866">- m_Count</tspan><tspan x="3545" dy="20">- m_Magic</tspan>
<tspan x="3545" y="2906">+ List()</tspan><tspan x="3545" dy="20">+ List()</tspan><tspan x="3545" dy="20">+ ~List()</tspan><tspan x="3545" dy="20">+ operator=()</tspan><tspan x="3545" dy="20">+ size()</tspan><tspan x="3545" dy="20">+ count()</tspan><tspan x="3545" dy="20">+ pushBack()</tspan><tspan x="3545" dy="20">+ pushBack()</tspan><tspan x="3545" dy="20">+ tryPushBack()</tspan><tspan x="3545" dy="20">+ tryPushBack()</tspan><tspan x="3545" dy="20">   and 16 more...</tspan></text></g>

<g id="n_vas_stack" class="bx"><rect x="3685" y="2860" width="148" height="224"/><line x1="3685" y1="2902" x2="3833" y2="2902"/><line x1="3685" y1="2962" x2="3833" y2="2962"/>
<text class="t c" x="3759" y="2875">VirtualAddressSpace</text><text class="t c" x="3759" y="2895">::Stack</text>
<text class="t"><tspan x="3693" y="2917">- m_Top</tspan><tspan x="3693" dy="20">- m_Size</tspan><tspan x="3693" dy="20">- m_RegionId</tspan>
<tspan x="3693" y="2977">+ Stack()</tspan><tspan x="3693" dy="20">+ regionId()</tspan><tspan x="3693" dy="20">+ getTop()</tspan><tspan x="3693" dy="20">+ getBase()</tspan><tspan x="3693" dy="20">+ getSize()</tspan><tspan x="3693" dy="20">+ operator void *()</tspan></text></g>

<g id="n_list_void" class="bx"><rect x="3857" y="2829" width="118" height="284"/><line x1="3857" y1="2851" x2="3975" y2="2851"/><line x1="3857" y1="2891" x2="3975" y2="2891"/>
<text class="t c" x="3916" y="2844">List&lt; void * &gt;</text>
<text class="t"><tspan x="3865" y="2866">- m_Count</tspan><tspan x="3865" dy="20">- m_Magic</tspan>
<tspan x="3865" y="2906">+ List()</tspan><tspan x="3865" dy="20">+ List()</tspan><tspan x="3865" dy="20">+ ~List()</tspan><tspan x="3865" dy="20">+ operator=()</tspan><tspan x="3865" dy="20">+ size()</tspan><tspan x="3865" dy="20">+ count()</tspan><tspan x="3865" dy="20">+ pushBack()</tspan><tspan x="3865" dy="20">+ pushBack()</tspan><tspan x="3865" dy="20">+ tryPushBack()</tspan><tspan x="3865" dy="20">+ tryPushBack()</tspan><tspan x="3865" dy="20">   and 16 more...</tspan></text></g>

<g id="n_process" class="rd"><rect x="1252" y="2498" width="257" height="944"/><line x1="1252" y1="2520" x2="1509" y2="2520"/><line x1="1252" y1="2760" x2="1509" y2="2760"/>
<text class="t c" x="1380" y="2513">Process</text>
<text class="t"><tspan x="1260" y="2535">- m_Id</tspan><tspan x="1260" dy="20">- m_UserspaceId</tspan><tspan x="1260" dy="20">- m_ExitStatus</tspan><tspan x="1260" dy="20">- m_bFilesystemContextReady</tspan><tspan x="1260" dy="20">- m_UserReservationGeneration</tspan><tspan x="1260" dy="20">- m_ContinuationEpoch</tspan><tspan x="1260" dy="20">- m_nThreadJoinOperations</tspan><tspan x="1260" dy="20">- m_bThreadJoinAdmissionClosed</tspan><tspan x="1260" dy="20">- m_nExternalLeases</tspan><tspan x="1260" dy="20">- m_bExternalLeaseAdmission</tspan><tspan x="1260" dy="20">   Closed</tspan><tspan x="1260" dy="20">   and 19 more...</tspan>
<tspan x="1260" y="2775">+ Process()</tspan><tspan x="1260" dy="20">+ Process()</tspan><tspan x="1260" dy="20">+ ~Process()</tspan><tspan x="1260" dy="20">+ addThread()</tspan><tspan x="1260" dy="20">+ threadExiting()</tspan><tspan x="1260" dy="20">+ transferExecProcessSignals()</tspan><tspan x="1260" dy="20">+ removeThread()</tspan><tspan x="1260" dy="20">+ getNumThreads()</tspan><tspan x="1260" dy="20">+ acquireThread()</tspan><tspan x="1260" dy="20">+ acquireProcessSignalThread()</tspan><tspan x="1260" dy="20">   and 87 more...</tspan><tspan x="1260" dy="20">+ currentFilesystemCredentials()</tspan><tspan x="1260" dy="20">+ getInit()</tspan><tspan x="1260" dy="20">+ setInit()</tspan><tspan x="1260" dy="20"># publishAccountIdentity()</tspan><tspan x="1260" dy="20"># Process()</tspan><tspan x="1260" dy="20"># Process()</tspan><tspan x="1260" dy="20"># publish()</tspan><tspan x="1260" dy="20"># prepareForDestruction()</tspan><tspan x="1260" dy="20"># enableTimeAccountingReports()</tspan><tspan x="1260" dy="20"># setTimeAccountingReportInterest()</tspan><tspan x="1260" dy="20"># loadFilesystemIds()</tspan><tspan x="1260" dy="20"># publishFilesystemIds()</tspan><tspan x="1260" dy="20">- finishTermination()</tspan><tspan x="1260" dy="20">- Process()</tspan><tspan x="1260" dy="20">- operator=()</tspan><tspan x="1260" dy="20">- reportTimesUpdated()</tspan><tspan x="1260" dy="20">- drainDeferredTimeAccounting()</tspan><tspan x="1260" dy="20">- closeDeferredTimeAccounting()</tspan><tspan x="1260" dy="20">- publishTimeAccounting()</tspan><tspan x="1260" dy="20">- reportTimeAccounting()</tspan><tspan x="1260" dy="20">- queueTimeAccountingReport()</tspan><tspan x="1260" dy="20">- processTerminated()</tspan><tspan x="1260" dy="20">   and 15 more...</tspan></text></g>

<g id="n_string" class="bx"><rect x="2067" y="2684" width="131" height="564"/><line x1="2067" y1="2706" x2="2198" y2="2706"/><line x1="2067" y1="2786" x2="2198" y2="2786"/>
<text class="t c" x="2132" y="2699">String</text>
<text class="t"><tspan x="2075" y="2721">- m_Data</tspan><tspan x="2075" dy="20">- m_Length</tspan><tspan x="2075" dy="20">- m_Size</tspan><tspan x="2075" dy="20">- m_Hash</tspan>
<tspan x="2075" y="2801">+ String()</tspan><tspan x="2075" dy="20">+ String()</tspan><tspan x="2075" dy="20">+ String()</tspan><tspan x="2075" dy="20">+ String()</tspan><tspan x="2075" dy="20">+ String()</tspan><tspan x="2075" dy="20">+ String()</tspan><tspan x="2075" dy="20">+ String()</tspan><tspan x="2075" dy="20">+ String()</tspan><tspan x="2075" dy="20">+ ~String()</tspan><tspan x="2075" dy="20">+ operator=()</tspan><tspan x="2075" dy="20">   and 50 more...</tspan><tspan x="2075" dy="20">+ Utf32ToUtf8()</tspan><tspan x="2075" dy="20"># iswhitespace()</tspan><tspan x="2075" dy="20"># reserve()</tspan><tspan x="2075" dy="20"># computeHash()</tspan><tspan x="2075" dy="20"># computeHash()</tspan><tspan x="2075" dy="20"># setLength()</tspan><tspan x="2075" dy="20"># setSize()</tspan><tspan x="2075" dy="20">- maybeHash()</tspan><tspan x="2075" dy="20">- extract()</tspan><tspan x="2075" dy="20">- move()</tspan><tspan x="2075" dy="20">- resizable()</tspan><tspan x="2075" dy="20">- assignable()</tspan></text></g>

<g id="n_threadplacement" class="bx"><rect x="2224" y="2918" width="128" height="84"/><line x1="2224" y1="2940" x2="2352" y2="2940"/><line x1="2224" y1="2960" x2="2352" y2="2960"/>
<text class="t c" x="2288" y="2933">ThreadPlacement</text>
<text class="t"><tspan x="2232" y="2955">+ migratable</tspan><tspan x="2232" y="2975">+ initialUser()</tspan><tspan x="2232" dy="20">+ inherit()</tspan></text></g>

<g id="n_thread" class="bx"><rect x="2014" y="3530" width="238" height="964"/><line x1="2014" y1="3552" x2="2252" y2="3552"/><line x1="2014" y1="3772" x2="2252" y2="3772"/>
<text class="t c" x="2133" y="3545">Thread</text>
<text class="t"><tspan x="2022" y="3567">- m_nStateLevel</tspan><tspan x="2022" dy="20">- m_FilesystemUid</tspan><tspan x="2022" dy="20">- m_FilesystemGid</tspan><tspan x="2022" dy="20">   m_FilesystemIdsValid</tspan><tspan x="2022" dy="20">- m_UserTime</tspan><tspan x="2022" dy="20">- m_KernelTime</tspan><tspan x="2022" dy="20">- m_CurrentTimeAccountingMode</tspan><tspan x="2022" dy="20">- m_pAllocatedStack</tspan><tspan x="2022" dy="20">   m_Id</tspan><tspan x="2022" dy="20">- m_TaskId</tspan><tspan x="2022" dy="20">   and 55 more...</tspan>
<tspan x="2022" y="3787">+ currentUserReturnFrame()</tspan><tspan x="2022" dy="20">+ tryRequireSignalFrames()</tspan><tspan x="2022" dy="20">+ clearSignalFrameRequirement()</tspan><tspan x="2022" dy="20">+ setUserReturnSignalParked()</tspan><tspan x="2022" dy="20">+ canSkipUserReturnWork()</tspan><tspan x="2022" dy="20">+ clearUserReturnWorkIfIdle()</tspan><tspan x="2022" dy="20">+ userReturnWorkPending()</tspan><tspan x="2022" dy="20">+ requiresSignalFrames()</tspan><tspan x="2022" dy="20">+ Thread()</tspan><tspan x="2022" dy="20">+ Thread()</tspan><tspan x="2022" dy="20">   and 132 more...</tspan><tspan x="2022" dy="20">+ threadExited()</tspan><tspan x="2022" dy="20">+ setScheduler()</tspan><tspan x="2022" dy="20"># deferEvents()</tspan><tspan x="2022" dy="20"># resumeEvents()</tspan><tspan x="2022" dy="20"># deferTermination()</tspan><tspan x="2022" dy="20"># resumeTermination()</tspan><tspan x="2022" dy="20"># markUserReturnWorkFlag()</tspan><tspan x="2022" dy="20"># clearUserReturnWorkFlag()</tspan><tspan x="2022" dy="20"># markUserReturnWorkPending()</tspan><tspan x="2022" dy="20"># registerDeferredScope()</tspan><tspan x="2022" dy="20"># armStateCleanup()</tspan><tspan x="2022" dy="20">   and 10 more...</tspan><tspan x="2022" dy="20"># registerFreshTermination</tspan><tspan x="2022" dy="20">   Deferral()</tspan><tspan x="2022" dy="20">- Thread()</tspan><tspan x="2022" dy="20">- Thread()</tspan><tspan x="2022" dy="20">- operator=()</tspan><tspan x="2022" dy="20">- publishTimeAccounting()</tspan><tspan x="2022" dy="20">- initialisePlacement()</tspan><tspan x="2022" dy="20">- publishReadyNotification()</tspan><tspan x="2022" dy="20">- cleanStateLevel()</tspan><tspan x="2022" dy="20">- beginTemporarySignalMask()</tspan><tspan x="2022" dy="20">- finishTemporarySignalMask()</tspan><tspan x="2022" dy="20">   and 24 more...</tspan><tspan x="2022" dy="20">- discardJoin()</tspan></text></g>

<g id="n_callbackdeliveryqueue" class="gy"><rect x="595" y="3770" width="256" height="484"/><line x1="595" y1="3812" x2="851" y2="3812"/><line x1="595" y1="3832" x2="851" y2="3832"/>
<text class="t c" x="723" y="3785">UsbHcd::CallbackDelivery</text><text class="t c" x="723" y="3805">Queue</text>
<text class="t"><tspan x="603" y="3847">+ CallbackDeliveryQueue()</tspan><tspan x="603" dy="20">+ ~CallbackDeliveryQueue()</tspan><tspan x="603" dy="20">+ create()</tspan><tspan x="603" dy="20">+ nextGeneration()</tspan><tspan x="603" dy="20">+ publish()</tspan><tspan x="603" dy="20">+ deliver()</tspan><tspan x="603" dy="20">+ drain()</tspan><tspan x="603" dy="20">+ cancelSubscription()</tspan><tspan x="603" dy="20">+ drainAll()</tspan><tspan x="603" dy="20">+ contains()</tspan><tspan x="603" dy="20">+ activeCount()</tspan><tspan x="603" dy="20">+ empty()</tspan><tspan x="603" dy="20">+ isInCallbackContext()</tspan><tspan x="603" dy="20">- findLocked()</tspan><tspan x="603" dy="20">- finishRecord()</tspan><tspan x="603" dy="20">- runRecord()</tspan><tspan x="603" dy="20">- NOT_COPYABLE_OR_ASSIGNABLE()</tspan><tspan x="603" dy="20">- callbackContextLock()</tspan><tspan x="603" dy="20">- callbackContexts()</tspan><tspan x="603" dy="20">- inCallbackContext()</tspan><tspan x="603" dy="20">- currentRunner()</tspan></text></g>

<g id="n_wq_channel" class="bx"><rect x="1334" y="3960" width="147" height="104"/><line x1="1334" y1="3982" x2="1481" y2="3982"/><line x1="1334" y1="4022" x2="1481" y2="4022"/>
<text class="t c" x="1407" y="3975">WaitQueue::Channel</text>
<text class="t"><tspan x="1342" y="3997">+ owner</tspan><tspan x="1342" dy="20">+ value</tspan><tspan x="1342" y="4037">+ Channel()</tspan><tspan x="1342" dy="20">+ operator==()</tspan></text></g>

<g id="n_wq_waiter" class="bx"><rect x="1302" y="4648" width="181" height="304"/><line x1="1302" y1="4670" x2="1483" y2="4670"/><line x1="1302" y1="4790" x2="1483" y2="4790"/>
<text class="t c" x="1392" y="4663">WaitQueue::Waiter</text>
<text class="t"><tspan x="1310" y="4685">+ channelGeneration</tspan><tspan x="1310" dy="20">+ stateLevel</tspan><tspan x="1310" dy="20">+ reason</tspan><tspan x="1310" dy="20">+ queued</tspan><tspan x="1310" dy="20">+ legacyOnAbandon</tspan><tspan x="1310" dy="20">+ legacyAbandonContext</tspan>
<tspan x="1310" y="4805">+ loadQueue()</tspan><tspan x="1310" dy="20">+ storeQueue()</tspan><tspan x="1310" dy="20">+ loadReason()</tspan><tspan x="1310" dy="20">+ storeReason()</tspan><tspan x="1310" dy="20">+ isQueued()</tspan><tspan x="1310" dy="20">+ setQueued()</tspan><tspan x="1310" dy="20">+ storeChannel()</tspan><tspan x="1310" dy="20">+ snapshotChannel()</tspan></text></g>

<g id="n_waitqueue" class="bx"><rect x="1110" y="5290" width="196" height="384"/><line x1="1110" y1="5312" x2="1306" y2="5312"/><line x1="1110" y1="5352" x2="1306" y2="5352"/>
<text class="t c" x="1208" y="5305">WaitQueue</text>
<text class="t"><tspan x="1118" y="5327">- m_WaiterCount</tspan><tspan x="1118" dy="20">- m_WaitIntent</tspan>
<tspan x="1118" y="5367">+ WaitQueue()</tspan><tspan x="1118" dy="20">+ ~WaitQueue()</tspan><tspan x="1118" dy="20">+ acquire()</tspan><tspan x="1118" dy="20">+ wakeOne()</tspan><tspan x="1118" dy="20">+ wakeAll()</tspan><tspan x="1118" dy="20">+ wakeAllIfWaiting()</tspan><tspan x="1118" dy="20">+ waiterCount()</tspan><tspan x="1118" dy="20">- wait()</tspan><tspan x="1118" dy="20">- wakeOneLocked()</tspan><tspan x="1118" dy="20">- wakeAllLocked()</tspan><tspan x="1118" dy="20">- wakeAndRequeueLocked()</tspan><tspan x="1118" dy="20">- completeWaiter()</tspan><tspan x="1118" dy="20">- removeWaiterLocked()</tspan><tspan x="1118" dy="20">- clearWaitIntentIfEmpty()</tspan><tspan x="1118" dy="20">- cancel()</tspan><tspan x="1118" dy="20">- publishReady()</tspan></text></g>

<g id="n_ownedthread" class="bx"><rect x="1813" y="4996" width="141" height="264"/><line x1="1813" y1="5018" x2="1954" y2="5018"/><line x1="1813" y1="5038" x2="1954" y2="5038"/>
<text class="t c" x="1883" y="5011">OwnedThread</text>
<text class="t"><tspan x="1821" y="5053">+ OwnedThread()</tspan><tspan x="1821" dy="20">+ OwnedThread()</tspan><tspan x="1821" dy="20">+ ~OwnedThread()</tspan><tspan x="1821" dy="20">+ adopt()</tspan><tspan x="1821" dy="20">+ start()</tspan><tspan x="1821" dy="20">+ join()</tspan><tspan x="1821" dy="20">+ get()</tspan><tspan x="1821" dy="20">+ operator-&gt;()</tspan><tspan x="1821" dy="20">+ operator bool()</tspan><tspan x="1821" dy="20">- OwnedThread()</tspan><tspan x="1821" dy="20">- operator=()</tspan></text></g>

<g id="n_statelevel" class="rd"><rect x="1873" y="5285" width="257" height="404"/><line x1="1873" y1="5307" x2="2130" y2="5307"/><line x1="1873" y1="5607" x2="2130" y2="5607"/>
<text class="t c" x="2001" y="5300">Thread::StateLevel</text>
<text class="t"><tspan x="1881" y="5322">+ m_State</tspan><tspan x="1881" dy="20">+ m_SignalMask</tspan><tspan x="1881" dy="20">+ m_InheritedSignalMask</tspan><tspan x="1881" dy="20">+ m_TemporarySignalMaskActive</tspan><tspan x="1881" dy="20">+ m_TemporarySignalMaskInterrupted</tspan><tspan x="1881" dy="20">+ m_DeferredSignalMaskRestore</tspan><tspan x="1881" dy="20">+ m_DispatchedSignalNumber</tspan><tspan x="1881" dy="20">+ m_DispatchedSignalContinuation</tspan><tspan x="1881" dy="20">   Epoch</tspan><tspan x="1881" dy="20">+ m_ExternalEventStack</tspan><tspan x="1881" dy="20">+ m_Errno</tspan><tspan x="1881" dy="20">+ m_InterruptReason</tspan><tspan x="1881" dy="20">+ m_ExceptionWaitEvent</tspan><tspan x="1881" dy="20">+ m_ExceptionWaitCancelled</tspan><tspan x="1881" dy="20">   AsynchronousAck</tspan>
<tspan x="1881" y="5622">+ StateLevel()</tspan><tspan x="1881" dy="20">+ ~StateLevel()</tspan><tspan x="1881" dy="20">+ StateLevel()</tspan><tspan x="1881" dy="20">+ operator=()</tspan></text></g>

<g id="n_vector_thread" class="bx"><rect x="2434" y="4630" width="142" height="344"/><line x1="2434" y1="4652" x2="2576" y2="4652"/><line x1="2434" y1="4732" x2="2576" y2="4732"/>
<text class="t c" x="2505" y="4645">Vector&lt; Thread * &gt;</text>
<text class="t"><tspan x="2442" y="4667">- m_Size</tspan><tspan x="2442" dy="20">- m_Count</tspan><tspan x="2442" dy="20">- m_Start</tspan><tspan x="2442" dy="20">- m_ReserveFactor</tspan>
<tspan x="2442" y="4747">+ Vector()</tspan><tspan x="2442" dy="20">+ Vector()</tspan><tspan x="2442" dy="20">+ Vector()</tspan><tspan x="2442" dy="20">+ ~Vector()</tspan><tspan x="2442" dy="20">+ operator=()</tspan><tspan x="2442" dy="20">+ operator[]()</tspan><tspan x="2442" dy="20">+ operator[]()</tspan><tspan x="2442" dy="20">+ size()</tspan><tspan x="2442" dy="20">+ count()</tspan><tspan x="2442" dy="20">+ pushBack()</tspan><tspan x="2442" dy="20">   and 25 more...</tspan><tspan x="2442" dy="20">- reserve()</tspan></text></g>

<g id="n_dtrn" class="bx"><rect x="2130" y="4771" width="204" height="64"/><line x1="2130" y1="4793" x2="2334" y2="4793"/><line x1="2130" y1="4813" x2="2334" y2="4813"/>
<text class="t c" x="2232" y="4786">DeferredThreadReapNode</text>
<text class="t"><tspan x="2138" y="4828">+ DeferredThreadReapNode()</tspan></text></g>

<g id="n_mpsc" class="or"><rect x="2418" y="5705" width="200" height="284"/><line x1="2418" y1="5767" x2="2618" y2="5767"/><line x1="2418" y1="5787" x2="2618" y2="5787"/>
<text class="t c" x="2518" y="5720">IntrusiveMpscQueue</text><text class="t c" x="2518" y="5740">&lt; DeferredThreadReapNode,</text><text class="t c" x="2518" y="5760">&amp;DeferredThreadReapNode::next &gt;</text>
<text class="t"><tspan x="2426" y="5802">+ IntrusiveMpscQueue()</tspan><tspan x="2426" dy="20">+ push()</tspan><tspan x="2426" dy="20">+ pop()</tspan><tspan x="2426" dy="20">+ ~IntrusiveMpscQueue()</tspan><tspan x="2426" dy="20">- beginPush()</tspan><tspan x="2426" dy="20">- loadHead()</tspan><tspan x="2426" dy="20">- finishPush()</tspan><tspan x="2426" dy="20">- loadNext()</tspan><tspan x="2426" dy="20">- storeNext()</tspan><tspan x="2426" dy="20">- loadTail()</tspan></text></g>

<g id="n_semaphore" class="bx"><rect x="868" y="6018" width="236" height="384"/><line x1="868" y1="6040" x2="1104" y2="6040"/><line x1="868" y1="6080" x2="1104" y2="6080"/>
<text class="t c" x="986" y="6033">Semaphore</text>
<text class="t"><tspan x="876" y="6055">- magic</tspan><tspan x="876" dy="20">- m_bCanInterrupt</tspan>
<tspan x="876" y="6095">+ Semaphore()</tspan><tspan x="876" dy="20">+ ~Semaphore()</tspan><tspan x="876" dy="20">+ acquireWithError()</tspan><tspan x="876" dy="20">+ acquireForCompletion()</tspan><tspan x="876" dy="20">+ acquire()</tspan><tspan x="876" dy="20">+ tryAcquire()</tspan><tspan x="876" dy="20">+ drainAvailable()</tspan><tspan x="876" dy="20">+ release()</tspan><tspan x="876" dy="20">+ getValue()</tspan><tspan x="876" dy="20">+ getDebugMutexOwner()</tspan><tspan x="876" dy="20"># initialiseMutex()</tspan><tspan x="876" dy="20"># destroyMutex()</tspan><tspan x="876" dy="20"># mutexOwnedByCurrentThread()</tspan><tspan x="876" dy="20">- acquireWithResult()</tspan><tspan x="876" dy="20">- Semaphore()</tspan><tspan x="876" dy="20">- operator=()</tspan></text></g>

<g id="n_condvar" class="bx"><rect x="1127" y="6108" width="165" height="204"/><line x1="1127" y1="6130" x2="1292" y2="6130"/><line x1="1127" y1="6150" x2="1292" y2="6150"/>
<text class="t c" x="1209" y="6123">ConditionVariable</text>
<text class="t"><tspan x="1135" y="6145">- m_Private</tspan>
<tspan x="1135" y="6165">+ ConditionVariable()</tspan><tspan x="1135" dy="20">+ ~ConditionVariable()</tspan><tspan x="1135" dy="20">+ wait()</tspan><tspan x="1135" dy="20">+ wait()</tspan><tspan x="1135" dy="20">+ waitForCompletion()</tspan><tspan x="1135" dy="20">+ signal()</tspan><tspan x="1135" dy="20">+ broadcast()</tspan><tspan x="1135" dy="20">+ mutexAcquired()</tspan></text></g>

<g id="n_sww" class="bx"><rect x="567" y="6178" width="183" height="64"/><line x1="567" y1="6200" x2="750" y2="6200"/><line x1="567" y1="6220" x2="750" y2="6220"/>
<text class="t c" x="658" y="6193">SchedulerWorkerWake</text>
<text class="t"><tspan x="575" y="6235">+ SchedulerWorkerWake()</tspan></text></g>

<g id="n_sth" class="bx"><rect x="1768" y="6168" width="201" height="84"/><line x1="1768" y1="6190" x2="1969" y2="6190"/><line x1="1768" y1="6210" x2="1969" y2="6210"/>
<text class="t c" x="1868" y="6183">SchedulerTimerHandler</text>
<text class="t"><tspan x="1776" y="6225">+ timer()</tspan><tspan x="1776" dy="20"># ~SchedulerTimerHandler()</tspan></text></g>

<g id="n_sa" class="bx"><rect x="1995" y="6138" width="185" height="144"/><line x1="1995" y1="6160" x2="2180" y2="6160"/><line x1="1995" y1="6180" x2="2180" y2="6180"/>
<text class="t c" x="2087" y="6153">SchedulingAlgorithm</text>
<text class="t"><tspan x="2003" y="6195">+ ~SchedulingAlgorithm()</tspan><tspan x="2003" dy="20">+ addThread()</tspan><tspan x="2003" dy="20">+ removeThread()</tspan><tspan x="2003" dy="20">+ getNext()</tspan><tspan x="2003" dy="20">+ threadStatusChanged()</tspan></text></g>

<g id="n_dtaws" class="bx"><rect x="3087" y="6065" width="234" height="284"/><line x1="3087" y1="6107" x2="3321" y2="6107"/><line x1="3087" y1="6167" x2="3321" y2="6167"/>
<text class="t c" x="3204" y="6080">DeferredTimeAccountingWorker</text><text class="t c" x="3204" y="6100">State</text>
<text class="t"><tspan x="3095" y="6122">- m_Published</tspan><tspan x="3095" dy="20">- m_Completed</tspan><tspan x="3095" dy="20">- m_Active</tspan>
<tspan x="3095" y="6182">+ DeferredTimeAccountingWorker</tspan><tspan x="3095" dy="20">   State()</tspan><tspan x="3095" dy="20">+ finish()</tspan><tspan x="3095" dy="20">+ beginBatch()</tspan><tspan x="3095" dy="20">+ finishBatch()</tspan><tspan x="3095" dy="20">+ ready()</tspan><tspan x="3095" dy="20">+ tryBegin()</tspan><tspan x="3095" dy="20">- DeferredTimeAccountingWorker</tspan><tspan x="3095" dy="20">   State()</tspan><tspan x="3095" dy="20">- operator=()</tspan></text></g>

<g id="n_pps" class="bx"><rect x="1668" y="6480" width="266" height="844"/><line x1="1668" y1="6502" x2="1934" y2="6502"/><line x1="1668" y1="6722" x2="1934" y2="6722"/>
<text class="t c" x="1801" y="6495">PerProcessorScheduler</text>
<text class="t"><tspan x="1676" y="6517">- m_NewThreadAdmissionOpen</tspan><tspan x="1676" dy="20">- m_StopNewThreadWorker</tspan><tspan x="1676" dy="20">- m_AffinityAdmissionOpen</tspan><tspan x="1676" dy="20">- m_LogicalCpu</tspan><tspan x="1676" dy="20">- m_PhysicalCpu</tspan><tspan x="1676" dy="20">- m_NominalQuantumNs</tspan><tspan x="1676" dy="20">- m_IdleWakeRequested</tspan><tspan x="1676" dy="20">- m_SchedulerTickCounter</tspan><tspan x="1676" dy="20">- m_UserReturnDiagnosticSequence</tspan><tspan x="1676" dy="20">- DeferredReapPublicationClosed</tspan><tspan x="1676" dy="20">- DeferredReapPublicationCountMask</tspan>
<tspan x="1676" y="6737">+ PerProcessorScheduler()</tspan><tspan x="1676" dy="20">+ ~PerProcessorScheduler()</tspan><tspan x="1676" dy="20">+ initialise()</tspan><tspan x="1676" dy="20">+ checkEventState()</tspan><tspan x="1676" dy="20">+ eventHandlerReturned()</tspan><tspan x="1676" dy="20">+ addThread()</tspan><tspan x="1676" dy="20">+ addThread()</tspan><tspan x="1676" dy="20">+ commitCurrentThreadExit()</tspan><tspan x="1676" dy="20">+ abandonCurrentThreadStack()</tspan><tspan x="1676" dy="20">+ requestCurrentThreadExit</tspan><tspan x="1676" dy="20">   ToIdle()</tspan><tspan x="1676" dy="20">   and 18 more...</tspan><tspan x="1676" dy="20">+ stackDiscardCount()</tspan><tspan x="1676" dy="20">+ stackDiscardCount()</tspan><tspan x="1676" dy="20">- addThread()</tspan><tspan x="1676" dy="20">- killCurrentThread()</tspan><tspan x="1676" dy="20">- schedule()</tspan><tspan x="1676" dy="20">- scheduleWithInterruptState()</tspan><tspan x="1676" dy="20">- blockCurrent()</tspan><tspan x="1676" dy="20">- publishReadyFromWait()</tspan><tspan x="1676" dy="20">- finishCurrentThreadExit()</tspan><tspan x="1676" dy="20">- serviceDeferredSubsystem</tspan><tspan x="1676" dy="20">   Exception()</tspan><tspan x="1676" dy="20">- checkEventState()</tspan><tspan x="1676" dy="20">- checkEventState()</tspan><tspan x="1676" dy="20">   and 14 more...</tspan><tspan x="1676" dy="20">- deleteThreadThenRestoreState()</tspan><tspan x="1676" dy="20">- deleteThread()</tspan><tspan x="1676" dy="20">- timeAccountingWorkerEntry()</tspan><tspan x="1676" dy="20">- processorAddThread()</tspan></text></g>
</svg>
